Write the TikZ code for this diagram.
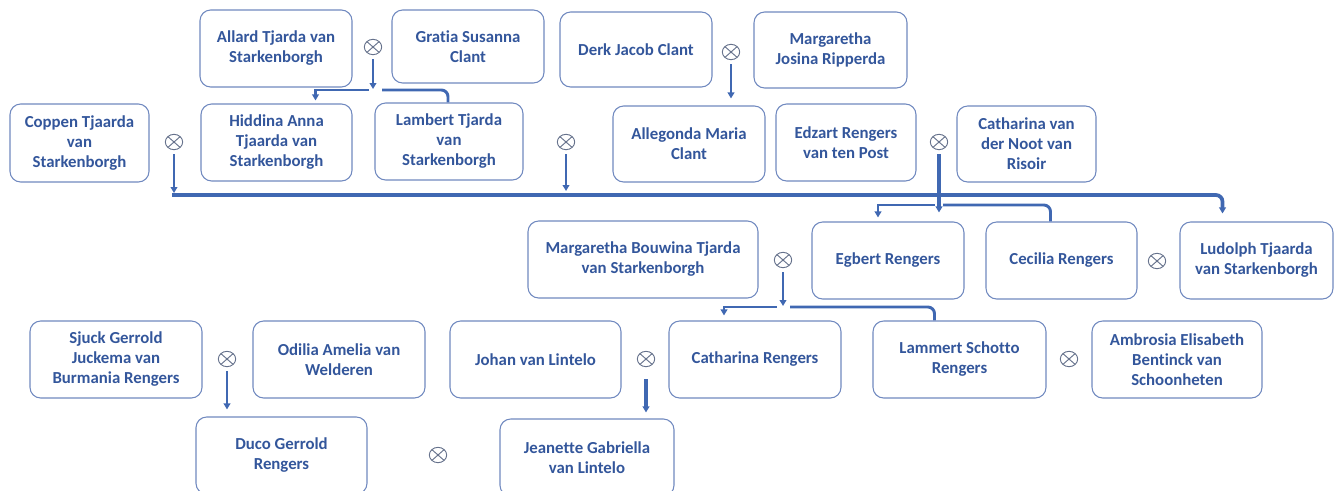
\documentclass[tikz,border=0pt]{standalone}
\usepackage{fontspec}
\setmainfont{Carlito}[Ligatures={NoCommon}]
\usetikzlibrary{arrows.meta,calc,shapes.geometric}
\definecolor{boxc}{HTML}{7089BF}
\definecolor{txtc}{HTML}{33569B}
\definecolor{linec}{HTML}{4068B2}
\definecolor{marc}{HTML}{66728C}
\begin{document}
\begin{tikzpicture}[x=0.75pt,y=-0.75pt,
  person/.style={draw=boxc, line width=0.8pt, rounded corners=8pt, text=txtc,
    font=\bfseries\fontsize{12.6}{15}\selectfont, align=center, inner sep=0pt},
  sz/.style 2 args={minimum width=#1*0.75pt, minimum height=#2*0.75pt},
  mar/.style={ellipse, draw=marc, line width=0.7pt, minimum width=13pt, minimum height=11.5pt, inner sep=0pt,
    path picture={\draw[marc, line width=0.7pt]
      (path picture bounding box.north west) -- (path picture bounding box.south east)
      (path picture bounding box.south west) -- (path picture bounding box.north east);}},
  conn/.style={draw=linec, line width=#1},
  tip/.style={-{Triangle[length=4.5pt,width=5pt]}},
  rc/.style={rounded corners=5pt}
]
\useasboundingbox (0,0) rectangle (1338,490);
% persons
\node[person, sz={152}{77}] (allard) at (276,48.5) {Allard Tjarda van\\Starkenborgh};
\node[person, sz={152}{73}] (gratia) at (468,46.5) {Gratia Susanna\\Clant};
\node[person, sz={152}{75}] (derk) at (636,49.5) {Derk Jacob Clant};
\node[person, sz={153}{76}] (mjos) at (830.5,50) {Margaretha\\Josina Ripperda};
\node[person, sz={139}{78}] (coppen) at (79.5,143) {Coppen Tjaarda\\van\\Starkenborgh};
\node[person, sz={151}{77}] (hiddina) at (276.5,142.5) {Hiddina Anna\\Tjaarda van\\Starkenborgh};
\node[person, sz={148}{77}] (lambert) at (449,141.5) {Lambert Tjarda\\van\\Starkenborgh};
\node[person, sz={152}{76}] (alleg) at (689,144) {Allegonda Maria\\Clant};
\node[person, sz={140}{77}] (edzart) at (846,142.5) {Edzart Rengers\\van ten Post};
\node[person, sz={139}{76}] (cathn) at (1026.5,144) {Catharina van\\der Noot van\\Risoir};
\node[person, sz={230}{77}] (mbouw) at (643,259.5) {Margaretha Bouwina Tjarda\\van Starkenborgh};
\node[person, sz={152}{77}] (egbert) at (888,260.5) {Egbert Rengers};
\node[person, sz={151}{77}] (cecilia) at (1061.5,260.5) {Cecilia Rengers};
\node[person, sz={153}{77}] (ludolph) at (1256.5,260.5) {Ludolph Tjaarda\\van Starkenborgh};
\node[person, sz={172}{77}] (sjuck) at (116,359.5) {Sjuck Gerrold\\Juckema van\\Burmania Rengers};
\node[person, sz={172}{77}] (odilia) at (339,359.5) {Odilia Amelia van\\Welderen};
\node[person, sz={171}{77}] (johan) at (535.5,359.5) {Johan van Lintelo};
\node[person, sz={172}{77}] (cathr) at (755,359.5) {Catharina Rengers};
\node[person, sz={173}{77}] (lammert) at (959.5,359.5) {Lammert Schotto\\Rengers};
\node[person, sz={170}{77}] (ambrosia) at (1177,359.5) {Ambrosia Elisabeth\\Bentinck van\\Schoonheten};
\node[person, sz={171}{77}] (duco) at (281.5,455.5) {Duco Gerrold\\Rengers};
\node[person, sz={174}{77}] (jeanette) at (587,457.5) {Jeanette Gabriella\\van Lintelo};
% marriages
\node[mar] (m1) at (373,47) {};
\node[mar] (m2) at (731,52) {};
\node[mar] (m3) at (174,142) {};
\node[mar] (m4) at (566,142) {};
\node[mar] (m5) at (939,142) {};
\node[mar] (m6) at (783,260) {};
\node[mar] (m7) at (1157,261) {};
\node[mar] (m8) at (227,359) {};
\node[mar] (m9) at (646,359) {};
\node[mar] (m10) at (1069,359) {};
\node[mar] (m11) at (438,455) {};
% junctions
\coordinate (j1) at (373,90);
\coordinate (bl) at (172,195);
\coordinate (j3) at (939,205);
\coordinate (j4) at (783,307);
% Allard x Gratia
\draw[conn=2pt, tip, shorten <=3pt] (m1.south) -- ($(j1)+(0,-1)$);
\draw[conn=1.6pt, tip] ($(j1)+(-4,0)$) -| ($(hiddina.north)+(39,-3)$);
\draw[conn=2.2pt, rc] ($(j1)+(9,0)$) -| ($(lambert.north)+(-1,0)$);
% Derk x Margaretha
\draw[conn=1.6pt, tip, shorten <=3pt] (m2.south) -- ($(m2.south |- alleg.north)+(0,-7)$);
% big line
\draw[conn=2.2pt, tip, shorten <=3pt] (m3.south) -- ($(m3.south |- bl)+(0,-2)$);
\draw[conn=2.2pt, tip, shorten <=3pt] (m4.south) -- ($(m4.south |- bl)+(0,-4)$);
\draw[conn=2.8pt, tip, rc] (bl) -| ($(ludolph.north)+(-34,-8)$);
% Edzart x Catharina
\draw[conn=2.8pt, tip, shorten <=3pt] (m5.south) -- ($(m5.south |- egbert.north)+(0,-9)$);
\draw[conn=2.2pt, tip] ($(j3)+(-4,0)$) -| ($(egbert.north)+(-10,-4)$);
\draw[conn=2.2pt, rc] ($(j3)+(4,0)$) -| ($(cecilia.north)+(-11,0)$);
% Margaretha Bouwina x Egbert
\draw[conn=2pt, tip, shorten <=3pt] (m6.south) -- ($(j4)+(0,-1)$);
\draw[conn=1.6pt, tip] ($(j4)+(-6,0)$) -| ($(cathr.north)+(-31,-5)$);
\draw[conn=2.2pt, rc] ($(j4)+(7,0)$) -| ($(lammert.north)+(-25,0)$);
% Sjuck x Odilia
\draw[conn=2.2pt, tip, shorten <=3pt] (m8.south) -- ($(m8.south |- duco.north)+(0,-7)$);
% Johan x Catharina
\draw[conn=2.5pt, tip, shorten <=9pt] (m9.south) -- ($(m9.south |- jeanette.north)+(0,-6)$);
\end{tikzpicture}
\end{document}
